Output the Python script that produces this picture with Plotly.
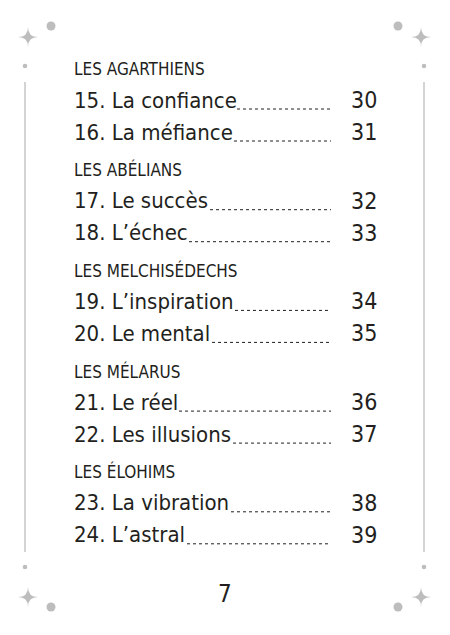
import plotly.graph_objects as go

sections = ['LES AGARTHIENS', 'LES ABÉLIANS', 'LES MELCHISÉDECHS', 'LES MÉLARUS', 'LES ÉLOHIMS']
entries = [
    ['15. La confiance', '16. La méfiance'],
    ['17. Le succès', '18. L’échec'],
    ['19. L’inspiration', '20. Le mental'],
    ['21. Le réel', '22. Les illusions'],
    ['23. La vibration', '24. L’astral'],
]
pages = [[30, 31], [32, 33], [34, 35], [36, 37], [38, 39]]
page_number = '7'

# where each dotted leader starts (end of the entry text)
leader_start = [[237, 234], [210, 189], [235, 212], [179, 233], [231, 187]]

FONT = 'DejaVu Sans Condensed, Roboto, sans-serif'
GREY = '#bdbdbd'
INK = '#231f20'

fig = go.Figure()
ann = []
shapes = []

y = 69
for i, sec in enumerate(sections):
    ann.append(dict(x=72, y=y, text=sec, showarrow=False, xanchor='left', yanchor='middle',
                    font=dict(family=FONT, size=17, color=INK)))
    for j, label in enumerate(entries[i]):
        ey = y + 31 + 32 * j
        ann.append(dict(x=72, y=ey, text=label, showarrow=False, xanchor='left', yanchor='middle',
                        font=dict(family=FONT, size=22, color=INK)))
        ann.append(dict(x=379, y=ey, text=str(pages[i][j]), showarrow=False, xanchor='right',
                        yanchor='middle', font=dict(family=FONT, size=23, color=INK)))
        shapes.append(dict(type='line', x0=leader_start[i][j], x1=331, y0=ey + 9, y1=ey + 9,
                           line=dict(color=INK, width=1, dash='dot')))
    y += 100.7

ann.append(dict(x=225, y=594, text=page_number, showarrow=False, font=dict(family=FONT, size=24, color=INK)))

# decorative frame
def star(cx, cy, r=10):
    return dict(type='path', fillcolor=GREY, line=dict(width=0),
                path=f'M {cx} {cy-r} Q {cx} {cy} {cx+r} {cy} Q {cx} {cy} {cx} {cy+r} '
                     f'Q {cx} {cy} {cx-r} {cy} Q {cx} {cy} {cx} {cy-r} Z')

def dot(cx, cy, r):
    return dict(type='circle', x0=cx - r, x1=cx + r, y0=cy - r, y1=cy + r,
                fillcolor=GREY, line=dict(width=0))

for sx, bx, lx in [(28, 51, 25), (421, 398, 424)]:
    shapes += [star(sx, 37), star(sx, 597), dot(bx, 26, 4.5), dot(bx, 607, 4.5),
               dot(lx, 66, 2.3), dot(lx, 567, 2.3),
               dict(type='line', x0=lx, x1=lx, y0=82, y1=552, line=dict(color=GREY, width=1.3))]

fig.update_layout(
    width=450, height=635, margin=dict(l=0, r=0, t=0, b=0),
    paper_bgcolor='white', plot_bgcolor='white',
    xaxis=dict(range=[0, 450], visible=False, fixedrange=True),
    yaxis=dict(range=[635, 0], visible=False, fixedrange=True),
    annotations=ann, shapes=shapes, showlegend=False,
)
fig.write_html('out.html', config={'displayModeBar': False},
               post_script="document.body.style.margin='0';")
